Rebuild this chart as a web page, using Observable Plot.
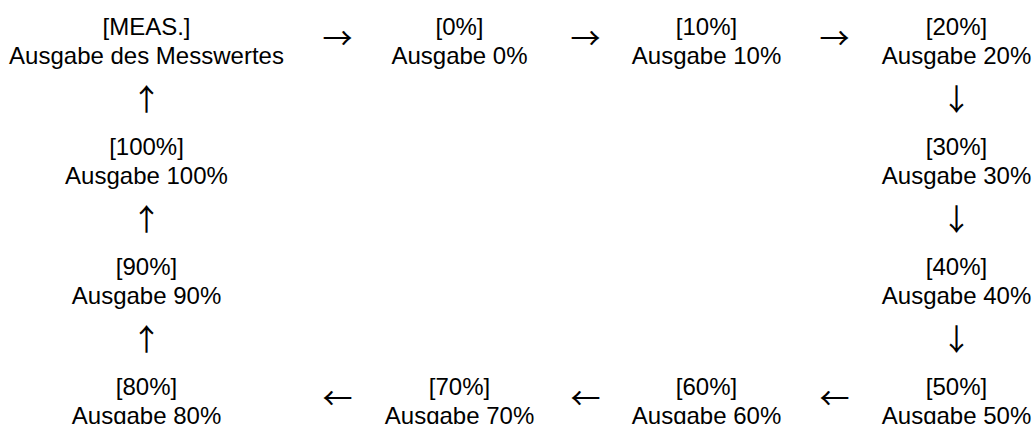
<!DOCTYPE html>
<html>
<head>
<meta charset="utf-8">
<script src="https://cdn.jsdelivr.net/npm/d3@7"></script>
<script src="https://cdn.jsdelivr.net/npm/@observablehq/plot@0.6"></script>
<style>
  html, body { margin: 0; padding: 0; background: #ffffff; }
  #chart svg { display: block; }
</style>
</head>
<body>
<div id="chart"></div>
<script>
// Flow steps (in order of the cycle)
const stepCodes  = ["[MEAS.]", "[0%]", "[10%]", "[20%]", "[30%]", "[40%]", "[50%]", "[60%]", "[70%]", "[80%]", "[90%]", "[100%]"];
const stepTexts  = ["Ausgabe des Messwertes", "Ausgabe 0%", "Ausgabe 10%", "Ausgabe 20%", "Ausgabe 30%", "Ausgabe 40%", "Ausgabe 50%", "Ausgabe 60%", "Ausgabe 70%", "Ausgabe 80%", "Ausgabe 90%", "Ausgabe 100%"];
// grid cell of each step (column, row)
const stepCols   = [0, 1, 2, 3, 3, 3, 3, 2, 1, 0, 0, 0];
const stepRows   = [0, 0, 0, 0, 1, 2, 3, 3, 3, 3, 2, 1];

const nodes = stepCodes.map((c, i) => ({
  label: c + "\n" + stepTexts[i],
  col: stepCols[i],
  row: stepRows[i]
}));

// arrows between consecutive steps (closing the cycle)
const arrows = nodes.map((n, i) => {
  const m = nodes[(i + 1) % nodes.length];
  const dc = m.col - n.col, dr = m.row - n.row;
  const glyph = dc > 0 ? "→" : dc < 0 ? "←" : dr > 0 ? "↓" : "↑";
  return {glyph, horizontal: dc !== 0, col: (n.col + m.col) / 2, row: (n.row + m.row) / 2};
});

const font = "'Liberation Sans', Arial, Helvetica, sans-serif";
const arrowFont = "'Noto Sans CJK SC', 'Liberation Sans', sans-serif";

const chart = Plot.plot({
  width: 1034,
  height: 424,
  margin: 0,
  style: {background: "#ffffff", fontFamily: font, color: "#000000"},
  x: {type: "linear", domain: [0, 0.5, 1, 1.5, 2, 2.5, 3], range: [146, 337, 459, 585, 706, 834, 956], axis: null},
  y: {type: "linear", domain: [0, 3], range: [40, 400], axis: null},
  marks: [
    Plot.text(nodes, {
      x: "col", y: "row", text: "label",
      fontSize: 24, lineHeight: 1.2, lineAnchor: "middle",
      textAnchor: "middle", fill: "#000000", fontFamily: font
    }),
    Plot.text(arrows.filter(d => d.horizontal), {
      x: "col", y: "row", text: "glyph",
      fontSize: 30, lineAnchor: "middle", dy: -1,
      textAnchor: "middle", fill: "#000000", fontFamily: arrowFont
    }),
    Plot.text(arrows.filter(d => !d.horizontal), {
      x: "col", y: "row", text: "glyph",
      fontSize: 30, lineAnchor: "middle",
      textAnchor: "middle", fill: "#000000", fontFamily: arrowFont
    })
  ]
});
document.getElementById("chart").append(chart);
</script>
</body>
</html>
